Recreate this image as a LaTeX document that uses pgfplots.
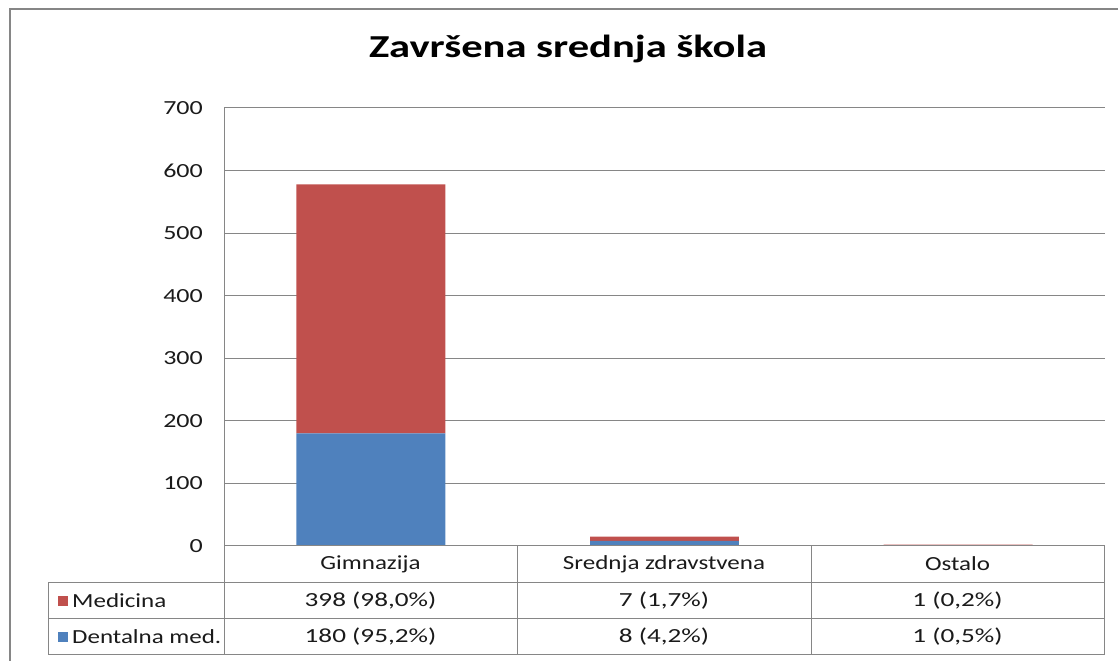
\documentclass[border=0pt]{standalone}
\usepackage{fontspec}
\setmainfont{Carlito}
\usepackage{graphicx}
\usepackage{pgfplots}
\pgfplotsset{compat=1.18}
\definecolor{cred}{HTML}{C0504D}
\definecolor{cblue}{HTML}{4F81BD}
\definecolor{cgrid}{HTML}{868686}
\definecolor{ctext}{HTML}{1A1A1A}
\newcommand{\sx}[1]{\scalebox{1.3}[1]{#1}}
\newcommand{\tf}{\fontsize{20bp}{24bp}\selectfont}
\begin{document}
\begin{tikzpicture}[x=1bp,y=1bp]
\path[use as bounding box] (0,0) rectangle (1118,661);
% outer chart border
\draw[cgrid,line width=1.2bp] (10,0) -- (10,652) -- (1118,652);
% title
\node[anchor=base,text=black] at (568,603) {\scalebox{1.33}[1]{\fontsize{32bp}{36bp}\selectfont\bfseries Završena srednja škola}};
\begin{axis}[
  at={(224bp,115bp)}, anchor=south west,
  scale only axis, width=881bp, height=438bp,
  xmin=-0.5, xmax=2.5, ymin=0, ymax=700,
  ytick={0,100,...,700}, xtick=\empty,
  ymajorgrids, grid style={cgrid, line width=1bp},
  axis line style={draw=none},
  major tick length=0pt,
  /pgf/number format/assume math mode=true,
  yticklabel style={inner sep=0pt, xshift=-21bp, font=\tf, text=ctext},
  yticklabel={\sx{\pgfmathprintnumber{\tick}}},
  ybar stacked, bar width=0.507,
  clip=false,
]
\addplot[fill=cblue, draw=none] coordinates {(0,180) (1,8) (2,1)};
\addplot[fill=cred, draw=none] coordinates {(0,398) (1,7) (2,1)};
\end{axis}
% axis and table lines
\draw[cgrid,line width=1bp] (224,553) -- (224,6);
\draw[cgrid,line width=1bp] (224,115) -- (1104,115);
\draw[cgrid,line width=1bp] (48,78) -- (1104,78);
\draw[cgrid,line width=1bp] (48,42) -- (1104,42);
\draw[cgrid,line width=1bp] (48,6) -- (1104,6);
\draw[cgrid,line width=1bp] (48,78) -- (48,6);
\foreach \xx in {517,811,1104} {\draw[cgrid,line width=1bp] (\xx,115) -- (\xx,6);}
% header labels
\node[text=ctext,font=\tf] at (370.5,97) {\scalebox{1.25}[1]{Gimnazija}};
\node[text=ctext,font=\tf] at (664,97) {\scalebox{1.25}[1]{Srednja zdravstvena}};
\node[text=ctext,font=\tf] at (957.5,97) {\scalebox{1.25}[1]{Ostalo}};
% legend keys
\fill[cred] (58,55) rectangle (68,65);
\fill[cblue] (58,19) rectangle (68,29);
\node[anchor=west,inner sep=0pt,text=ctext,font=\tf] at (72,60) {\scalebox{1.25}[1]{Medicina}};
\node[anchor=west,inner sep=0pt,text=ctext,font=\tf] at (72,24) {\scalebox{1.25}[1]{Dentalna med.}};
% values
\node[text=ctext,font=\tf] at (370.5,60) {\scalebox{1.36}[1]{398 (98,0\%)}};
\node[text=ctext,font=\tf] at (664,60) {\scalebox{1.36}[1]{7 (1,7\%)}};
\node[text=ctext,font=\tf] at (957.5,60) {\scalebox{1.36}[1]{1 (0,2\%)}};
\node[text=ctext,font=\tf] at (370.5,24) {\scalebox{1.36}[1]{180 (95,2\%)}};
\node[text=ctext,font=\tf] at (664,24) {\scalebox{1.36}[1]{8 (4,2\%)}};
\node[text=ctext,font=\tf] at (957.5,24) {\scalebox{1.36}[1]{1 (0,5\%)}};
\end{tikzpicture}
\end{document}
